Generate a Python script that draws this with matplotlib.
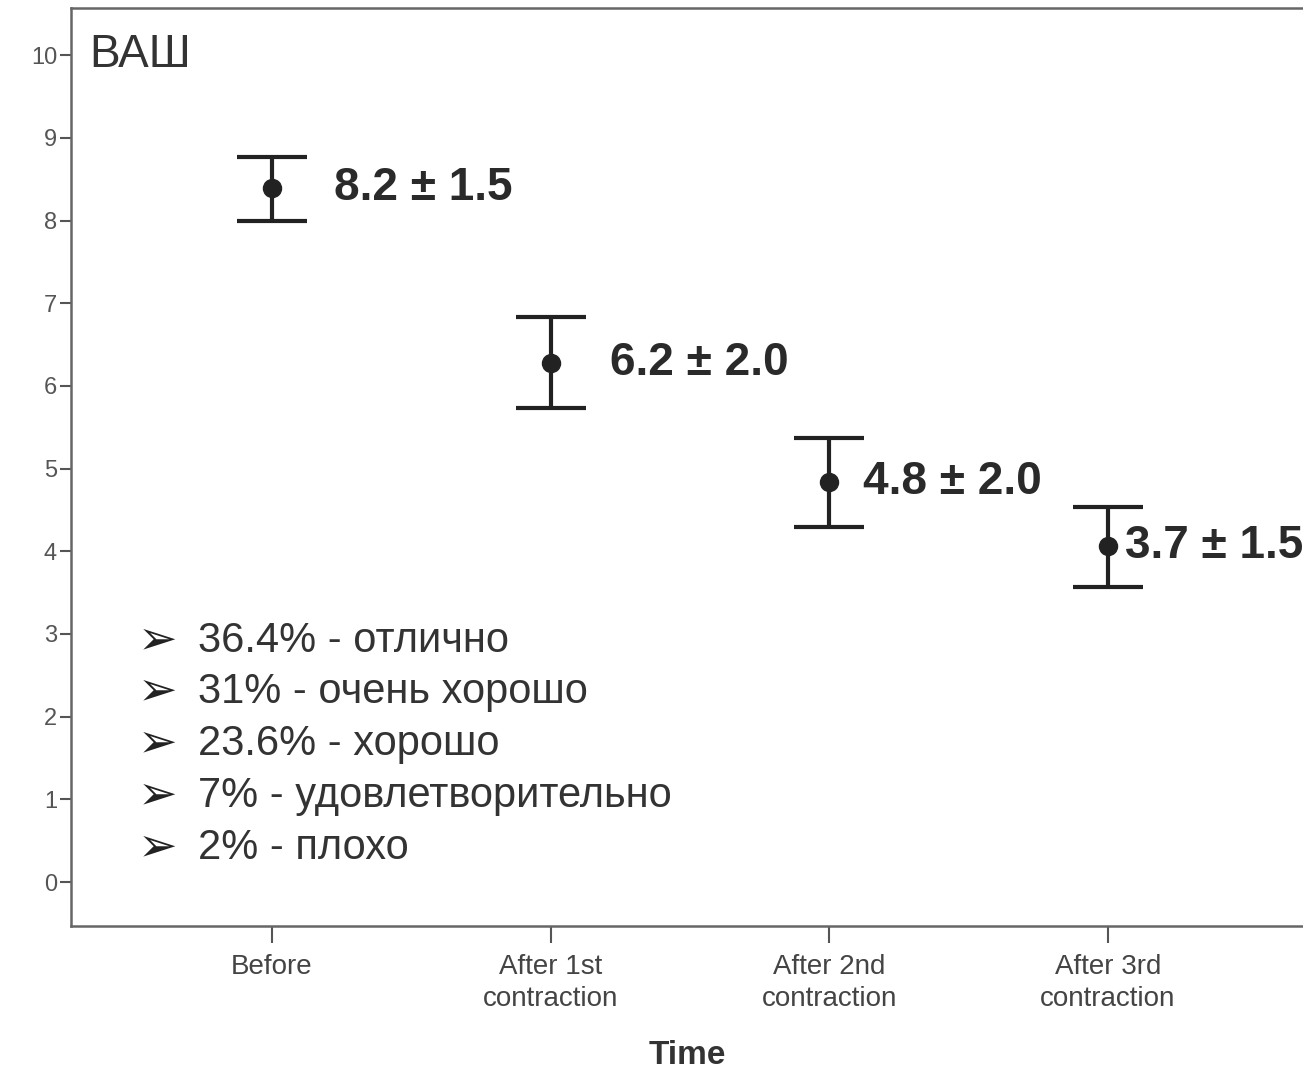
import matplotlib
matplotlib.use('Agg')
import matplotlib.pyplot as plt

categories = ['Before', 'After 1st\ncontraction', 'After 2nd\ncontraction', 'After 3rd\ncontraction']
means = [8.39, 6.28, 4.84, 4.06]
upper = [8.77, 6.83, 5.37, 4.53]
lower = [8.00, 5.73, 4.29, 3.57]
labels = ['8.2 ± 1.5', '6.2 ± 2.0', '4.8 ± 2.0', '3.7 ± 1.5']
label_dx = [45, 43, 24, 12]  # points to the right of each mean
bullets = ['36.4% - отлично', '31% - очень хорошо', '23.6% - хорошо',
           '7% - удовлетворительно', '2% - плохо']

plt.rcParams['font.family'] = ['Liberation Sans', 'DejaVu Sans']

fig = plt.figure(figsize=(13.03, 10.74), dpi=100)
ax = fig.add_axes([71 / 1303, 1 - 926 / 1074, 1 - 71 / 1303, (926 - 8) / 1074])

x = list(range(len(categories)))
yerr = [[m - lo for m, lo in zip(means, lower)], [up - m for m, up in zip(means, upper)]]
ax.errorbar(x, means, yerr=yerr, fmt='o', color='#222222', ecolor='#222222',
            elinewidth=3, capsize=25, capthick=3, markersize=13)

for xi, m, lab, dx in zip(x, means, labels, label_dx):
    ax.annotate(lab, (xi, m), xytext=(dx, 0), textcoords='offset points',
                ha='left', va='center', fontsize=33, fontweight='bold', color='#2a2a2a')

ax.set_xlim(-0.721, 3.70)
ax.set_ylim(-0.532, 10.57)
ax.set_yticks(range(0, 11))
ax.set_xticks(x)
ax.set_xticklabels(categories, fontsize=20, color='#444444', linespacing=1.3)
ax.tick_params(axis='y', labelsize=17, labelcolor='#555555', length=8, width=1.5,
               color='#555555', pad=2)
ax.tick_params(axis='x', length=12, width=1.5, color='#555555', pad=8)
ax.set_xlabel('Time', fontsize=24, fontweight='bold', color='#333333', labelpad=20)

for s in ['left', 'bottom', 'top']:
    ax.spines[s].set_color('#666666')
    ax.spines[s].set_linewidth(1.8)
ax.spines['right'].set_visible(False)

ax.text(0.015, (926 - 67) / 918, 'ВАШ', transform=ax.transAxes, fontsize=33,
        color='#333333', ha='left', va='baseline')

ys = [641, 692, 744, 796, 848]
for yp, b in zip(ys, bullets):
    fig.text(138 / 1303, 1 - yp / 1074, '➢', fontsize=34, color='#222222',
             family='DejaVu Sans', ha='left', va='center')
    fig.text(198 / 1303, 1 - yp / 1074, b, fontsize=30, color='#333333',
             ha='left', va='center')

fig.savefig('out.png', dpi=100)
